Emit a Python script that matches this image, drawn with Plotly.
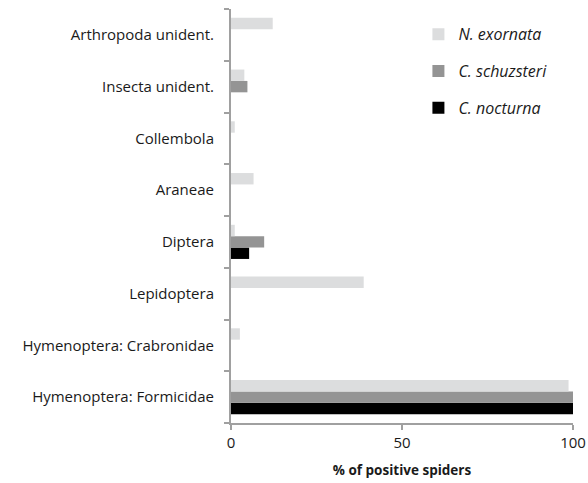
import plotly.graph_objects as go

categories = ["Hymenoptera: Formicidae", "Hymenoptera: Crabronidae", "Lepidoptera",
              "Diptera", "Araneae", "Collembola", "Insecta unident.", "Arthropoda unident."]
n_exornata = [98.7, 2.6, 38.8, 1.1, 6.6, 1.1, 3.9, 12.2]
c_schuzsteri = [100, 0, 0, 9.7, 0, 0, 4.8, 0]
c_nocturna = [100, 0, 0, 5.3, 0, 0, 0, 0]

series = [
    ("C. nocturna", c_nocturna, "#000000"),
    ("C. schuzsteri", c_schuzsteri, "#949494"),
    ("N. exornata", n_exornata, "#DCDDDE"),
]

fig = go.Figure()
for i, (name, vals, col) in enumerate(series):
    fig.add_trace(go.Bar(
        y=categories, x=vals, name=name, orientation="h",
        marker=dict(color=col, line=dict(width=0)),
        legendgroup=f"g{i}", legendrank=1000 - i,
    ))

axis_col = "#A0A0A0"
fig.update_layout(
    width=588, height=483,
    margin=dict(l=231, r=15, t=9, b=60),
    barmode="group", bargap=0.34, bargroupgap=0,
    plot_bgcolor="white", paper_bgcolor="white",
    font=dict(family="Open Sans", size=15, color="#1a1a1a"),
    showlegend=True,
    legend=dict(
        x=0.548, y=0.98, xanchor="left", yanchor="top",
        traceorder="grouped", tracegroupgap=13,
        font=dict(size=16, style="italic", color="#1a1a1a"),
        bgcolor="rgba(0,0,0,0)",
    ),
    xaxis=dict(
        range=[0, 100], tickvals=[0, 50, 100],
        showline=True, linecolor=axis_col, linewidth=2,
        ticks="outside", ticklen=5, tickcolor=axis_col, tickwidth=2,
        showgrid=False, zeroline=False, automargin=False,
        title=dict(text="<b>% of positive spiders</b>", font=dict(size=13.5), standoff=15),
        tickfont=dict(size=15),
    ),
    yaxis=dict(
        categoryorder="array", categoryarray=categories,
        showline=True, linecolor=axis_col, linewidth=2,
        ticks="outside", ticklen=5, tickcolor=axis_col, tickwidth=2,
        tickson="boundaries", showgrid=False, zeroline=False, automargin=False,
        ticklabelstandoff=12,
        tickfont=dict(size=15),
    ),
)

fig.write_html("out.html", config={"displayModeBar": False},
               post_script="document.body.style.margin='0px';")
